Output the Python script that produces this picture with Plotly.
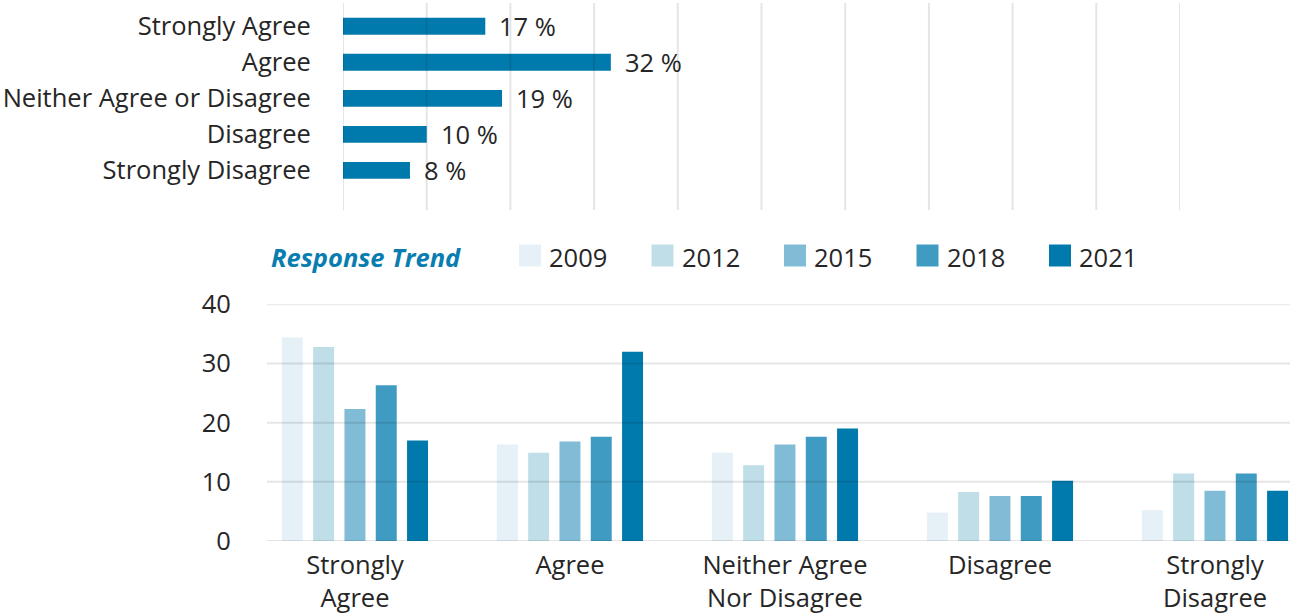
import plotly.graph_objects as go

# ---- data ----
responses = ["Strongly Agree", "Agree", "Neither Agree or Disagree", "Disagree", "Strongly Disagree"]
current_pct = [17, 32, 19, 10, 8]

trend_categories = ["Strongly<br>Agree", "Agree", "Neither Agree<br>Nor Disagree", "Disagree", "Strongly<br>Disagree"]
years = ["2009", "2012", "2015", "2018", "2021"]
trend_2009 = [34.4, 16.3, 14.9, 4.8, 5.2]
trend_2012 = [32.8, 14.9, 12.8, 8.3, 11.4]
trend_2015 = [22.3, 16.8, 16.3, 7.6, 8.5]
trend_2018 = [26.3, 17.6, 17.6, 7.6, 11.4]
trend_2021 = [17.0, 32.0, 19.0, 10.2, 8.5]
trend_values = [trend_2009, trend_2012, trend_2015, trend_2018, trend_2021]

year_colors = ["#e5f0f7", "#bfdee8", "#80bcd6", "#409bc2", "#007aad"]
bar_color = "#007aad"
text_color = "#262626"
grid_color = "rgba(0,0,0,0.10)"
FONT = "Open Sans"
FS = 25.5

W, H = 1290, 615


def px_x(v):
    return v / W


def px_y(v):
    return 1 - v / H


fig = go.Figure()

# top: current distribution
fig.add_trace(go.Bar(
    x=current_pct, y=responses, orientation="h",
    marker=dict(color=bar_color, line=dict(width=0)),
    width=0.47, xaxis="x", yaxis="y", showlegend=False, hoverinfo="x+y",
))
for r, v in zip(responses, current_pct):
    fig.add_annotation(
        x=v, y=r, xref="x", yref="y", text=f"{v} %", showarrow=False,
        xanchor="left", xshift=12, font=dict(family=FONT, size=FS, color=text_color),
    )

# bottom: grouped trend bars
for yr, vals, col in zip(years, trend_values, year_colors):
    fig.add_trace(go.Bar(
        x=trend_categories, y=vals, name=yr, marker=dict(color=col, line=dict(width=0)),
        xaxis="x2", yaxis="y2", showlegend=False,
    ))

# gridlines drawn above the bars
for v in range(0, 101, 10):
    fig.add_shape(type="line", xref="x", yref="y domain", x0=v, x1=v, y0=0, y1=1,
                  line=dict(color=grid_color, width=2), layer="above")
for v in range(0, 41, 10):
    fig.add_shape(type="line", xref="x2 domain", yref="y2", x0=0, x1=1, y0=v, y1=v,
                  line=dict(color=grid_color, width=2), layer="above")

# legend drawn by hand
fig.add_annotation(
    x=px_x(269), y=px_y(257), xref="paper", yref="paper", xanchor="left", yanchor="middle",
    text="<b><i>Response Trend</i></b>", showarrow=False,
    font=dict(family=FONT, size=FS, color="#0a7db0"),
)
for i, (yr, col) in enumerate(zip(years, year_colors)):
    x0 = 519 + 132.5 * i
    fig.add_shape(type="rect", xref="paper", yref="paper",
                  x0=px_x(x0), x1=px_x(x0 + 22), y0=px_y(266.5), y1=px_y(244.5),
                  fillcolor=col, line=dict(width=0))
    fig.add_annotation(
        x=px_x(x0 + 28), y=px_y(257), xref="paper", yref="paper", xanchor="left", yanchor="middle",
        text=yr, showarrow=False, font=dict(family=FONT, size=FS, color=text_color),
    )

fig.update_layout(
    width=W, height=H, margin=dict(l=0, r=0, t=0, b=0),
    paper_bgcolor="white", plot_bgcolor="white",
    font=dict(family=FONT, size=FS, color=text_color),
    barmode="group", bargap=0.272, bargroupgap=0.33,
    xaxis=dict(domain=[px_x(343), px_x(1180)], range=[0, 100], showgrid=False, zeroline=False,
               showticklabels=False, anchor="y", automargin=False),
    yaxis=dict(domain=[px_y(210), px_y(3)], type="category", categoryorder="array",
               categoryarray=responses, range=[5.10, -0.647], showgrid=False, zeroline=False,
               ticks="outside", ticklen=26, tickcolor="rgba(0,0,0,0)", anchor="x", automargin=False,
               tickfont=dict(family=FONT, size=FS, color=text_color)),
    xaxis2=dict(domain=[px_x(267), 1.0], range=[-0.409, 4.349], showgrid=False, zeroline=False,
                ticks="outside", ticklen=1, tickcolor="rgba(0,0,0,0)", anchor="y2", automargin=False,
                tickfont=dict(family=FONT, size=FS, color=text_color)),
    yaxis2=dict(domain=[px_y(541), px_y(304.3)], range=[0, 40], dtick=10, showgrid=False,
                zeroline=False, ticks="outside", ticklen=30, tickcolor="rgba(0,0,0,0)", anchor="x2",
                automargin=False, tickfont=dict(family=FONT, size=FS, color=text_color)),
)

fig.write_html("out.html")
